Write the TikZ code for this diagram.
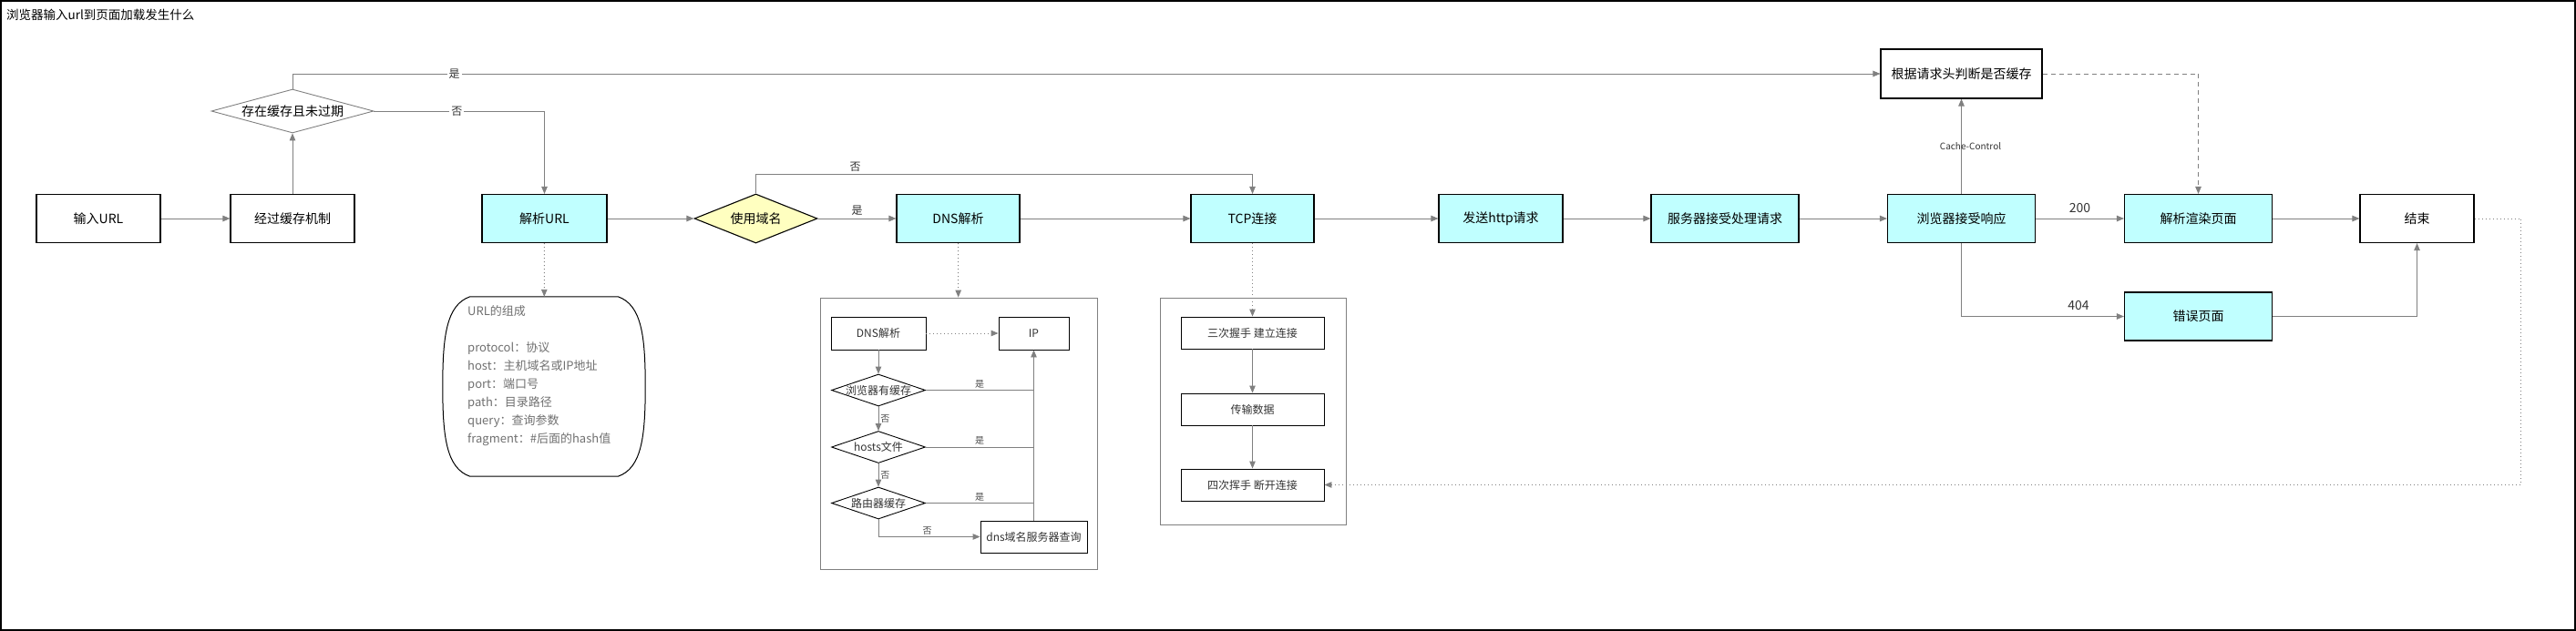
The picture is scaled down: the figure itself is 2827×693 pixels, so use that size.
\documentclass[tikz,border=0pt]{standalone}
\usepackage{fontspec}
\setmainfont{Noto Sans CJK SC}
\usepackage{tikz}
\usetikzlibrary{arrows.meta,shapes.geometric}
\definecolor{ProcCyan}{HTML}{C0FFFF}
\definecolor{DecYellow}{HTML}{FFFFC0}
\definecolor{LineGray}{HTML}{808080}
\definecolor{NoteGray}{HTML}{707070}

\begin{document}
\begin{tikzpicture}[x=1pt,y=-1pt,>={Triangle[length=8pt,width=6.5pt]},
    box/.style={rectangle,draw=black,line width=1.1pt,fill=white,minimum width=#1,minimum height=53pt,inner sep=0pt,font=\fontsize{14}{16}\selectfont},
    box/.default=136pt,
    proc/.style={box=#1,fill=ProcCyan},
    proc/.default=136pt,
    decision/.style={diamond,aspect=#1,line width=1.1pt,inner sep=0pt,font=\fontsize{14}{16}\selectfont},
    subbox/.style={rectangle,draw=black,line width=0.9pt,minimum width=#1,minimum height=35pt,inner sep=0pt,text=black!80,font=\fontsize{12}{14}\selectfont},
    subdec/.style={diamond,aspect=2.94,draw=black,line width=0.9pt,minimum width=103pt,minimum height=35pt,inner sep=-2pt,text=black!80,font=\fontsize{12}{14}\selectfont},
    frame/.style={rectangle,draw=LineGray,line width=0.9pt,inner sep=0pt},
    flow/.style={->,draw=LineGray,line width=0.9pt},
    link/.style={draw=LineGray,line width=0.9pt},
    lbl/.style={font=\fontsize{12}{14}\selectfont,text=black!80,inner sep=2pt},
    sublbl/.style={font=\fontsize{10}{12}\selectfont,text=black!70,inner sep=2pt},
    dotline/.style={dash pattern=on 1pt off 3pt},
  ]
  \useasboundingbox (0,0) rectangle (2827,693);
  \draw[line width=1.5pt] (1,1) rectangle (2826,692);
  \node[anchor=west,inner sep=0pt,font=\fontsize{13.5}{16}\selectfont] (title) at (7,16.5) {浏览器输入url到页面加载发生什么};

  \node[box] (input) at (108,240) {输入URL};
  \node[box] (cachemech) at (321,240) {经过缓存机制};
  \node[decision=3.7,draw=LineGray,line width=0.9pt,fill=white,minimum width=178pt,minimum height=48pt] (cachechk) at (321,122) {存在缓存且未过期};
  \node[proc=137pt] (parseurl) at (597.5,240) {解析URL};
  \node[decision=2.5,draw=black,fill=DecYellow,minimum width=135pt,minimum height=54pt] (usedomain) at (829.5,240) {使用域名};
  \node[proc=135pt] (dns) at (1051.5,240) {DNS解析};
  \node[proc=135pt] (tcp) at (1374.5,240) {TCP连接};
  \node[proc=136pt] (sendhttp) at (1647,240) {发送http请求};
  \node[proc=162pt] (server) at (1893,240) {服务器接受处理请求};
  \node[proc=162pt] (recv) at (2152.5,240) {浏览器接受响应};
  \node[box=177pt,minimum height=54pt] (cachehdr) at (2152.5,81) {根据请求头判断是否缓存};
  \node[proc=162pt] (render) at (2412.5,240) {解析渲染页面};
  \node[box=125pt] (finish) at (2652.5,240) {结束};
  \node[proc=162pt] (errpage) at (2412.5,347.5) {错误页面};

  \draw[flow] (input) -- (cachemech);
  \draw[flow] (cachemech) -- (cachechk);
  \draw[flow] (cachechk.north) |- node[lbl,fill=white,pos=0.551] {是} (cachehdr.west);
  \draw[flow] (cachechk.east) -| node[lbl,fill=white,pos=0.243] {否} (parseurl.north);
  \draw[flow] (parseurl) -- (usedomain);
  \draw[flow] (usedomain) -- node[lbl,above=1pt] {是} (dns);
  \draw[flow] (usedomain.north) -- ++(0,-21) -| node[lbl,above=1pt,pos=0.1] {否} (tcp.north);
  \foreach \a/\b in {dns/tcp,tcp/sendhttp,sendhttp/server,server/recv,render/finish}
    \draw[flow] (\a) -- (\b);
  \draw[flow] (recv) -- node[lbl,above=4pt,font=\fontsize{14}{16}\selectfont] {200} (render);
  \draw[flow] (recv) -- node[xshift=10pt,inner sep=0pt,text=black!80,font=\fontsize{10}{12}\selectfont] {Cache-Control} (cachehdr);
  \draw[flow,dash pattern=on 5pt off 4pt] (cachehdr.east) -| (render.north);
  \draw[flow] (recv.south) |- node[lbl,above=4pt,pos=0.86,font=\fontsize{14}{16}\selectfont] {404} (errpage.west);
  \draw[flow] (errpage.east) -| (finish.south);

  \node[minimum width=222pt,minimum height=197pt,inner sep=0pt] (urlinfo) at (597,424.5) {};
  \draw[line width=1pt] ([xshift=30pt]urlinfo.north west) -- ([xshift=-30pt]urlinfo.north east)
    .. controls +(26,9) and +(0,-55) .. (urlinfo.east)
    .. controls +(0,55) and +(26,-9) .. ([xshift=-30pt]urlinfo.south east)
    -- ([xshift=30pt]urlinfo.south west)
    .. controls +(-26,-9) and +(0,55) .. (urlinfo.west)
    .. controls +(0,-55) and +(-26,9) .. ([xshift=30pt]urlinfo.north west);
  \node[anchor=north west,align=left,inner sep=0pt,text=NoteGray,font=\fontsize{13}{20}\selectfont] (urltext) at (513,335)
    {URL的组成\\[20pt]protocol：协议\\host：主机域名或IP地址\\port：端口号\\path：目录路径\\query：查询参数\\fragment：\#后面的hash值};
  \draw[flow,dotline] (parseurl) -- (urlinfo);

  \node[frame,minimum width=304pt,minimum height=298pt] (dnsgroup) at (1052,476) {};
  \node[subbox=104pt,minimum height=36pt] (dnsstart) at (964,366) {DNS解析};
  \node[subbox=77pt,minimum height=36pt] (ip) at (1134.5,366) {IP};
  \node[subdec] (q1) at (964,428.5) {浏览器有缓存};
  \node[subdec] (q2) at (964,491) {hosts文件};
  \node[subdec] (q3) at (964,552.5) {路由器缓存};
  \node[subbox=117pt] (dnsserver) at (1134.5,589.5) {dns域名服务器查询};
  \draw[flow,dotline] (dns) -- (dnsgroup);
  \draw[flow,dotline] (dnsstart) -- (ip);
  \draw[flow] (dnsstart) -- (q1);
  \draw[flow] (q1) -- node[sublbl,right] {否} (q2);
  \draw[flow] (q2) -- node[sublbl,right] {否} (q3);
  \draw[flow] (q3.south) |- node[sublbl,above,pos=0.74] {否} (dnsserver.west);
  \foreach \q in {q1,q2,q3}
    \draw[link] (\q.east) -- node[sublbl,above] {是} (\q.east -| ip.south);
  \draw[flow] (dnsserver) -- (ip);

  \node[frame,minimum width=204pt,minimum height=249pt] (tcpgroup) at (1375,451.5) {};
  \node[subbox=157pt] (handshake) at (1374.5,365.5) {三次握手 建立连接};
  \node[subbox=157pt] (transfer) at (1374.5,449.5) {传输数据};
  \node[subbox=157pt] (tcpend) at (1374.5,532.5) {四次挥手 断开连接};
  \draw[flow,dotline] (tcp) -- (handshake);
  \draw[flow] (handshake) -- (transfer);
  \draw[flow] (transfer) -- (tcpend);
  \draw[flow,dotline] (finish.east) -- ++(51,0) |- (tcpend.east);
\end{tikzpicture}
\end{document}
